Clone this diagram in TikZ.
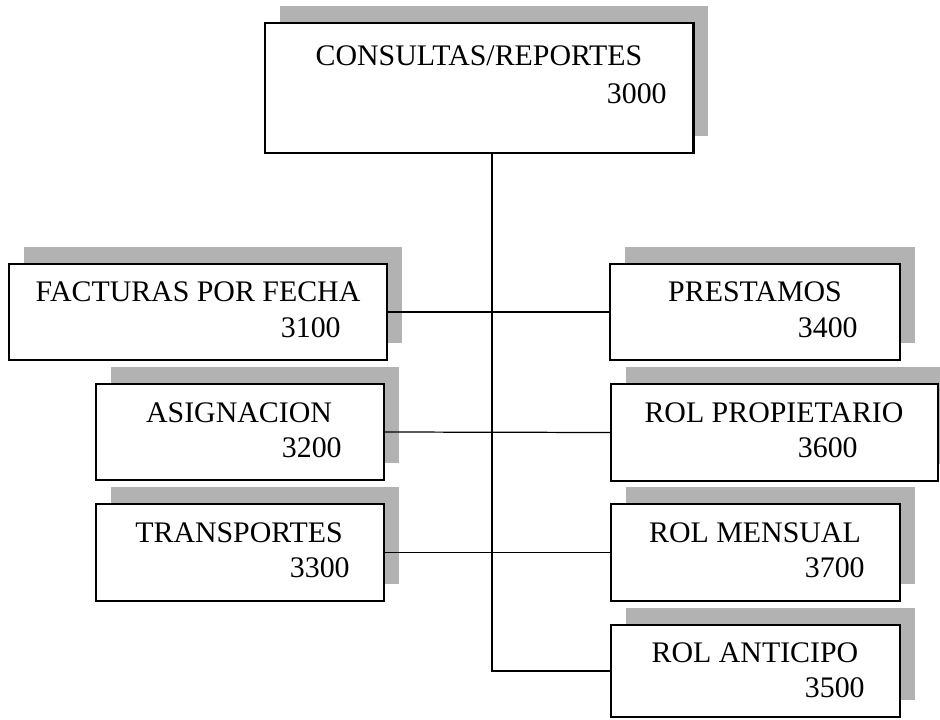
\documentclass[tikz,border=0pt]{standalone}
\usepackage{fontspec}
\setmainfont{Liberation Serif}
\usetikzlibrary{fit,shadows}

\tikzset{
  box/.style={draw, line width=0.85pt, fill=white, inner sep=0pt,
    general shadow={fill=black!30, shadow xshift=0.3cm, shadow yshift=0.34cm}},
  mainbox/.style={box, line width=1.7pt},
  title/.style={anchor=base, inner sep=0pt, font=\fontsize{17}{20}\selectfont},
  code/.style={anchor=base east, inner sep=0pt, font=\fontsize{17}{20}\selectfont},
  link/.style={line width=0.7pt}
}

\begin{document}
\begin{tikzpicture}[x=0.02cm, y=-0.02cm]
  \useasboundingbox (0,0) rectangle (940,720);
  %\draw[help lines, step=20] (0,0) grid (940,720);

  % top box
  \node[mainbox, fit={(265,23) (693,153)}] (cons) {};
  \node[title] (consT) at (479,65) {CONSULTAS/REPORTES};
  \node[code] (consN) at (667,103) {3000};

  % left column
  \node[box, fit={(9,264) (387,360)}] (fac) {};
  \node[title] (facT) at (198,301) {FACTURAS POR FECHA};
  \node[code] (facN) at (341,337) {3100};

  \node[box, fit={(96,384) (384,480)}] (asig) {};
  \node[title] (asigT) at (239,422) {ASIGNACION};
  \node[code] (asigN) at (342,457) {3200};

  \node[box, fit={(96,504) (384,601)}] (tra) {};
  \node[title] (traT) at (239,542) {TRANSPORTES};
  \node[code] (traN) at (350,577) {3300};

  % right column
  \node[box, fit={(610,264) (900,360)}] (pre) {};
  \node[title] (preT) at (755,301) {PRESTAMOS};
  \node[code] (preN) at (858,337) {3400};

  \node[box, fit={(611,384) (938,481)}] (pro) {};
  \node[title] (proT) at (774,422) {ROL PROPIETARIO};
  \node[code] (proN) at (858,457) {3600};

  \node[box, fit={(611,504) (900,601)}] (men) {};
  \node[title] (menT) at (755,542) {ROL MENSUAL};
  \node[code] (menN) at (865,577) {3700};

  \node[box, fit={(611,625) (900,717)}] (ant) {};
  \node[title] (antT) at (755,662) {ROL ANTICIPO};
  \node[code] (antN) at (865,697) {3500};

  % connectors
  \coordinate (trunk) at (492,0);
  \draw[link] (cons.south -| trunk) |- (ant.west);
  \foreach \a/\b in {fac/pre, asig/pro, tra/men}
    \draw[link] (\a.east) -- (\b.west);
\end{tikzpicture}
\end{document}
